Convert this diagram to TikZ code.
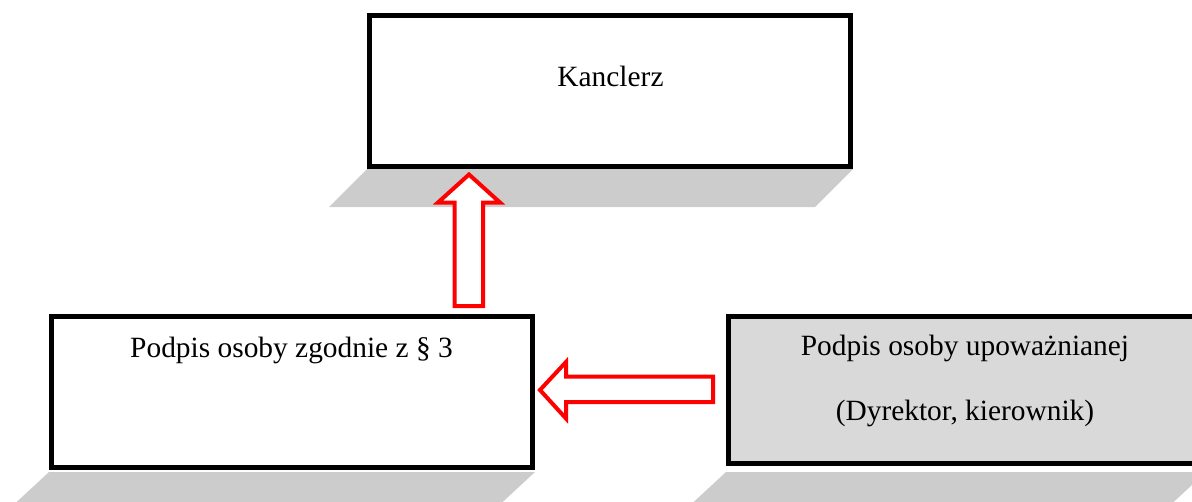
\documentclass[tikz,border=0pt]{standalone}
\usepackage{fontspec}
\setmainfont{Liberation Serif}
\definecolor{shadowgray}{HTML}{CCCCCC}
\definecolor{boxgray}{HTML}{D9D9D9}
\definecolor{arrowred}{HTML}{FF0000}
\tikzset{
  box/.style={draw=black, line width=5pt, fill=white, inner sep=0pt},
  graybox/.style={box, fill=boxgray},
  shadowshape/.style={fill=shadowgray, draw=none},
  blockarrow/.style={draw=arrowred, line width=4pt, fill=white, line join=miter},
  txt/.style={font=\fontsize{29.4}{35}\selectfont, anchor=base, inner sep=0pt}
}
\begin{document}
\begin{tikzpicture}[x=1pt,y=-1pt]
\useasboundingbox (0,0) rectangle (1192,501);
\begin{scope}
\clip (0,0) rectangle (1192,501);
% shadows
\fill[shadowshape] (367,169) -- (853,169) -- (815,207) -- (329,207) -- cycle;
\fill[shadowshape] (49,472) -- (535,472) -- (494,510) -- (8,510) -- cycle;
\fill[shadowshape] (726,472) -- (1206,472) -- (1165,510) -- (685,510) -- cycle;
% boxes
\node[box, minimum width=481pt, minimum height=151pt] (kan) at (609.5,90.5) {};
\node[box, minimum width=481pt, minimum height=151pt] (pod) at (291.5,391.5) {};
\node[graybox, minimum width=490pt, minimum height=147pt] (upo) at (973,389.5) {};
% texts
\node[txt] (tkan) at (610.5,86) {Kanclerz};
\node[txt] (tpod) at (291.5,357) {Podpis osoby zgodnie z § 3};
\node[txt] (tupo1) at (965,355) {Podpis osoby upoważnianej};
\node[txt] (tupo2) at (965,420) {(Dyrektor, kierownik)};
% block arrows
\coordinate (uptip) at (469,174.5);
\draw[blockarrow] (uptip) -- ++(31,28) -- ++(-17,0) -- ++(0,103.5) -- ++(-28.5,0) -- ++(0,-103.5) -- ++(-16.5,0) -- cycle;
\coordinate (lefttip) at (540,390);
\draw[blockarrow] (lefttip) -- ++(26,-28) -- ++(0,14.5) -- ++(147,0) -- ++(0,25.5) -- ++(-147,0) -- ++(0,16.5) -- cycle;
\end{scope}
\end{tikzpicture}
\end{document}
